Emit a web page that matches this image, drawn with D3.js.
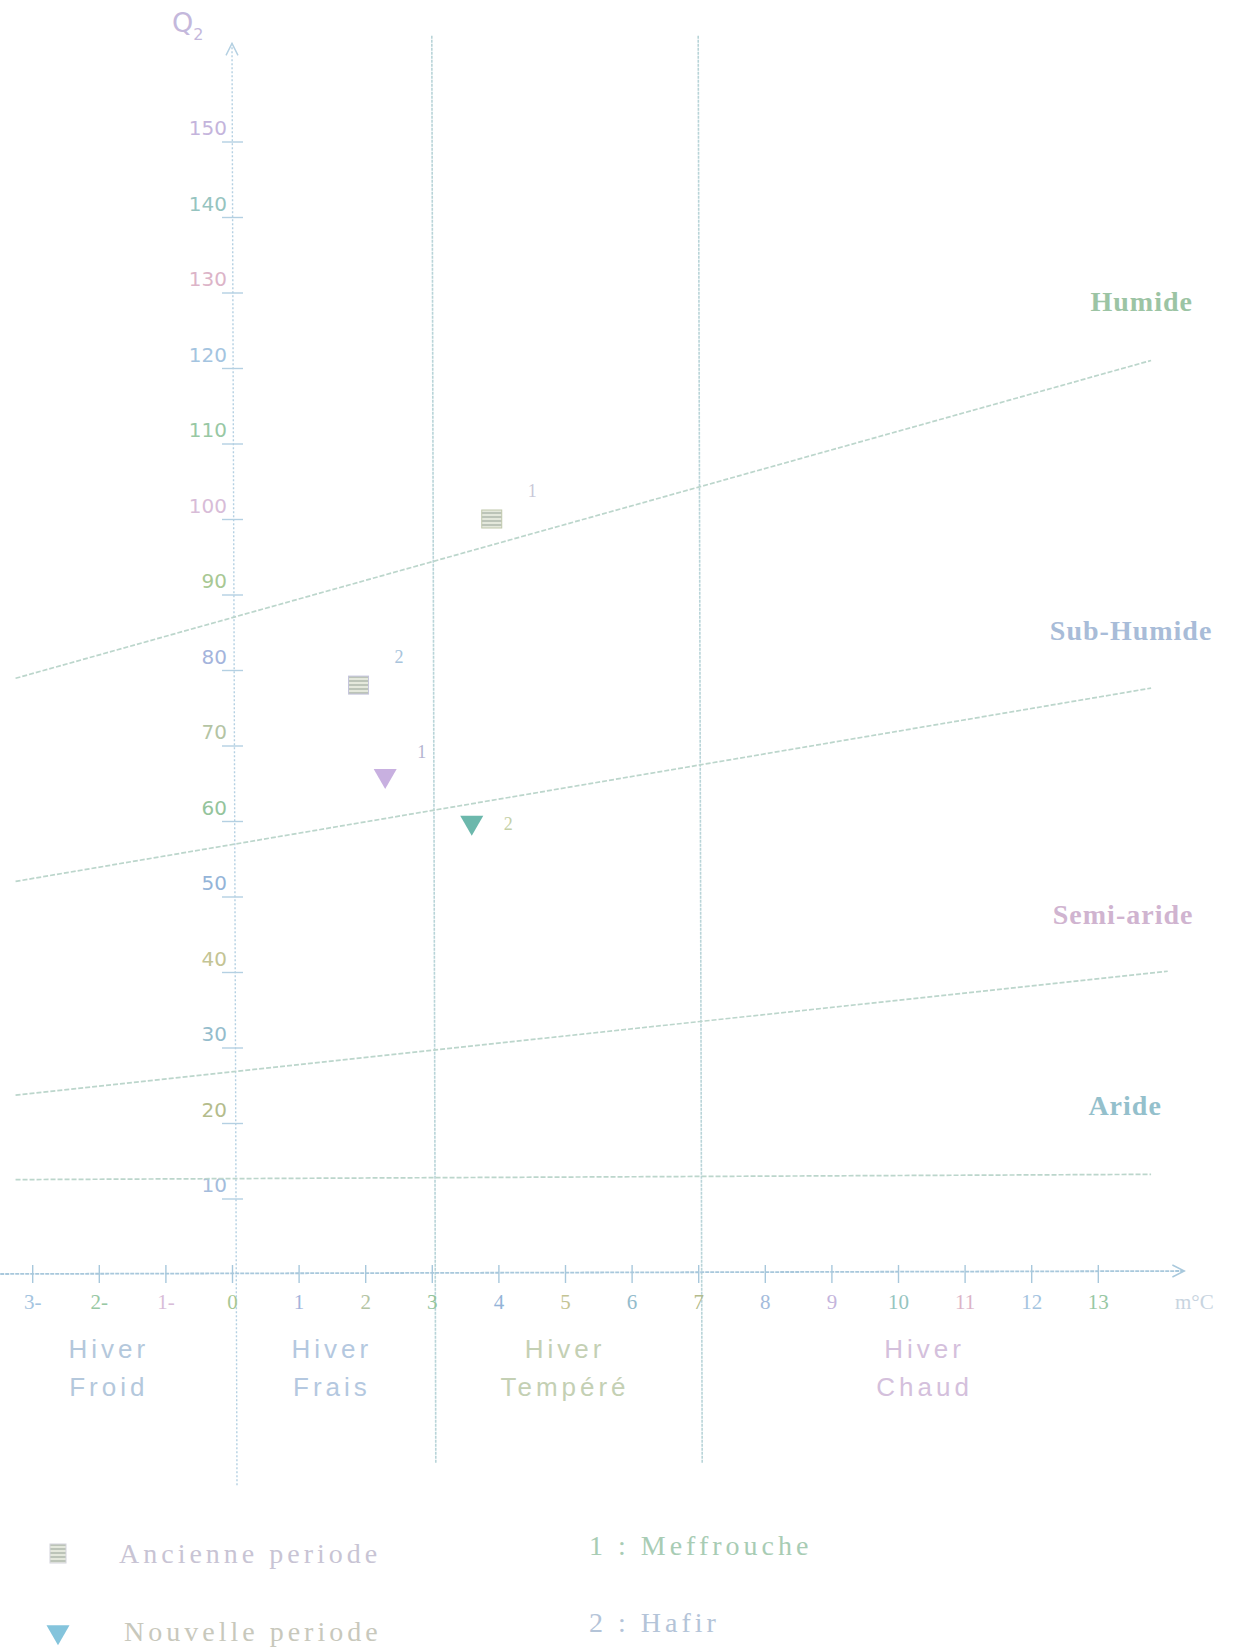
<!DOCTYPE html>
<html>
<head>
<meta charset="utf-8">
<script src="https://cdn.jsdelivr.net/npm/d3@7"></script>
<style>
  body { margin: 0; background: #fff; }
  svg { display: block; }
</style>
</head>
<body>
<div id="chart"></div>
<script>
// Climagramme d'Emberger : Q2 en fonction de m (°C)
// Axis ticks
const xTicks = [-3, -2, -1, 0, 1, 2, 3, 4, 5, 6, 7, 8, 9, 10, 11, 12, 13];
const xTickLabels = ['3-', '2-', '1-', '0', '1', '2', '3', '4', '5', '6', '7', '8', '9', '10', '11', '12', '13'];
const yTicks = [10, 20, 30, 40, 50, 60, 70, 80, 90, 100, 110, 120, 130, 140, 150];

// Stations
const stationIds = ['1', '2'];
const stationNames = ['Meffrouche', 'Hafir'];
const periodNames = ['Ancienne periode', 'Nouvelle periode'];
const ancienneM = [3.9, 1.9];
const ancienneQ2 = [100, 78];
const nouvelleM = [2.3, 3.6];
const nouvelleQ2 = [66, 59.8];

// Bioclimatic limits: [m start, Q2 start, m end, Q2 end]
const humideLimit = [-3.25, 78.9, 13.8, 121];
const subHumideLimit = [-3.25, 52, 13.8, 77.6];
const semiAridLimit = [-3.25, 23.7, 14.05, 40.1];
const arideLimit = [-3.25, 12.5, 13.8, 13.2];
const zoneNames = ['Humide', 'Sub-Humide', 'Semi-aride', 'Aride'];

// Winter variants (m limits) and names
const hiverLimits = [0, 3, 7];
const hiverRange = [-3.7, 13.8];
const hiverNames = ['Froid', 'Frais', 'Tempéré', 'Chaud'];

const width = 1233, height = 1650;
const pastel = ['#c4b4dc', '#96c4c0', '#dcb4c8', '#a4c4e0', '#98c8a4', '#d8bcd8', '#a8c894', '#a4b4dc', '#b4c4a4', '#94c49c', '#94b4d8', '#c4c494', '#94bccc', '#b4bc8c', '#a4bcdc'];
const lineColor = '#b4d0e2';
const zoneLineColor = '#bcd6cc';

const svg = d3.select('#chart').append('svg')
  .attr('width', width)
  .attr('height', height);

const x = d3.scaleLinear().domain([0, 13]).range([232, 232 + 13 * 66.6]);
const y = d3.scaleLinear().domain([0, 150]).range([1274, 141.5]);

// Vertical winter limits (m = 3 and m = 7)
svg.selectAll('.hiver-line')
  .data(hiverLimits.slice(1))
  .join('line')
  .attr('x1', d => x(d)).attr('x2', d => x(d) + 4)
  .attr('y1', y(164)).attr('y2', y(-25))
  .attr('stroke', '#b8d4d8')
  .attr('stroke-width', 1.6)
  .attr('stroke-dasharray', '3,1');

// Y axis (m = 0) with arrow
svg.append('line')
  .attr('x1', x(0)).attr('x2', x(0) + 5)
  .attr('y1', y(163)).attr('y2', y(-28))
  .attr('stroke', lineColor).attr('stroke-width', 1.4)
  .attr('stroke-dasharray', '2,2');
svg.append('path')
  .attr('d', `M${x(0) - 6},${y(163) + 12}L${x(0)},${y(163)}L${x(0) + 6},${y(163) + 12}`)
  .attr('fill', 'none').attr('stroke', lineColor).attr('stroke-width', 1.4);

// X axis (Q2 = 0) with arrow
svg.append('line')
  .attr('x1', x(-3.48)).attr('x2', x(14.3))
  .attr('y1', y(0)).attr('y2', y(0) - 3)
  .attr('stroke', '#a8c8dc').attr('stroke-width', 1.8)
  .attr('stroke-dasharray', '4,1');
svg.append('path')
  .attr('d', `M${x(14.3) - 12},${y(0) - 9}L${x(14.3)},${y(0) - 3}L${x(14.3) - 12},${y(0) + 3}`)
  .attr('fill', 'none').attr('stroke', '#a8c8dc').attr('stroke-width', 1.4);

// Y ticks and labels
const yAxis = d3.axisLeft(y).tickValues(yTicks).tickSize(0).tickPadding(5);
const gy = svg.append('g').attr('transform', `translate(${x(0)},0)`).call(yAxis);
gy.select('.domain').remove();
gy.selectAll('.tick').append('line')
  .attr('x1', -10).attr('x2', 11)
  .attr('stroke', lineColor).attr('stroke-width', 1.4);
gy.selectAll('.tick text')
  .attr('dy', -7)
  .attr('font-family', 'DejaVu Sans, sans-serif')
  .attr('font-size', 20)
  .attr('fill', (d, i) => pastel[(yTicks.length - 1 - i) % pastel.length]);

// X ticks and labels
const xAxis = d3.axisBottom(x).tickValues(xTicks).tickSize(0).tickPadding(20)
  .tickFormat((d, i) => xTickLabels[i]);
const gx = svg.append('g').attr('transform', `translate(0,${y(0)})`).call(xAxis);
gx.select('.domain').remove();
gx.selectAll('.tick').append('line')
  .attr('y1', -9).attr('y2', 9)
  .attr('stroke', '#a8c8dc').attr('stroke-width', 1.4);
gx.selectAll('.tick text')
  .attr('font-family', 'Liberation Serif, serif')
  .attr('font-size', 21)
  .attr('fill', (d, i) => pastel[(i + 3) % pastel.length]);

svg.append('text')
  .attr('x', x(14.45)).attr('y', y(0) + 35)
  .attr('text-anchor', 'middle')
  .attr('font-family', 'Liberation Serif, serif')
  .attr('font-size', 21)
  .attr('fill', '#c8d4e0')
  .text('m°C');

// Q2 axis title
const q = svg.append('text')
  .attr('x', 172).attr('y', 32)
  .attr('font-family', 'DejaVu Sans, sans-serif')
  .attr('font-size', 27)
  .attr('fill', '#c4b8dc');
q.append('tspan').text('Q');
q.append('tspan').attr('font-size', 16).attr('dy', 8).text('2');

// Bioclimatic limit lines
const limits = [humideLimit, subHumideLimit, semiAridLimit, arideLimit];
svg.selectAll('.limit')
  .data(limits)
  .join('line')
  .attr('x1', d => x(d[0])).attr('y1', d => y(d[1]))
  .attr('x2', d => x(d[2])).attr('y2', d => y(d[3]))
  .attr('stroke', zoneLineColor)
  .attr('stroke-width', 1.7)
  .attr('stroke-dasharray', '5,2');

// Zone names
const zoneLabelAt = [[13.66, 127.6], [13.5, 84], [13.38, 46.3], [13.41, 21]];
const zoneColors = ['#9cc4a4', '#a8bcd8', '#d0b4d0', '#94c0cc'];
svg.selectAll('.zone-label')
  .data(zoneNames)
  .join('text')
  .attr('x', (d, i) => x(zoneLabelAt[i][0]))
  .attr('y', (d, i) => y(zoneLabelAt[i][1]))
  .attr('text-anchor', 'middle')
  .attr('font-family', 'Liberation Serif, serif')
  .attr('font-weight', 'bold')
  .attr('font-size', 28)
  .attr('letter-spacing', 1)
  .attr('fill', (d, i) => zoneColors[i])
  .text(d => d);

// Winter labels, centred between limits
const hiverEdges = [hiverRange[0], ...hiverLimits, hiverRange[1]];
const hiverColors = ['#b4c8dc', '#b4c8e0', '#c4d0b4', '#d4c0dc'];
hiverNames.forEach((name, i) => {
  const cx = x((hiverEdges[i] + hiverEdges[i + 1]) / 2);
  [['Hiver', 1358], [name, 1396]].forEach(([t, ty]) => {
    svg.append('text')
      .attr('x', cx).attr('y', ty)
      .attr('text-anchor', 'middle')
      .attr('font-family', 'Liberation Sans, sans-serif')
      .attr('font-size', 26)
      .attr('letter-spacing', 4)
      .attr('fill', hiverColors[i])
      .text(t);
  });
});

// Hatch pattern for the old-period squares
const defs = svg.append('defs');
const pat = defs.append('pattern')
  .attr('id', 'hatch').attr('width', 4).attr('height', 4)
  .attr('patternUnits', 'userSpaceOnUse');
pat.append('rect').attr('width', 4).attr('height', 4).attr('fill', '#e4e8dc');
pat.append('rect').attr('width', 4).attr('height', 2).attr('fill', '#bcc4b8');

// Old period: squares
const oldColors = ['#c0c8ac', '#c4c4dc'];
svg.selectAll('.old-pt')
  .data(ancienneM)
  .join('rect')
  .attr('x', d => x(d) - 10)
  .attr('y', (d, i) => y(ancienneQ2[i]) - 9)
  .attr('width', 20).attr('height', 18)
  .attr('fill', 'url(#hatch)')
  .attr('stroke', (d, i) => oldColors[i]).attr('stroke-width', 1);

// New period: downward triangles
const newColors = ['#c8b0e0', '#6cb8ac'];
const tri = d3.symbol().type(d3.symbolTriangle).size(230);
svg.selectAll('.new-pt')
  .data(nouvelleM)
  .join('path')
  .attr('d', tri)
  .attr('transform', (d, i) => `translate(${x(d)},${y(nouvelleQ2[i])}) rotate(180)`)
  .attr('fill', (d, i) => newColors[i]);

// Station numbers next to points
const numColor = ['#c8c8d8', '#a8c4dc'];
svg.selectAll('.old-num')
  .data(ancienneM)
  .join('text')
  .attr('x', d => x(d) + 36)
  .attr('y', (d, i) => y(ancienneQ2[i]) - 22)
  .attr('font-family', 'Liberation Serif, serif')
  .attr('font-size', 18)
  .attr('fill', (d, i) => numColor[i])
  .text((d, i) => stationIds[i]);
svg.selectAll('.new-num')
  .data(nouvelleM)
  .join('text')
  .attr('x', d => x(d) + 32)
  .attr('y', (d, i) => y(nouvelleQ2[i]) + (i === 0 ? -18 : 7))
  .attr('font-family', 'Liberation Serif, serif')
  .attr('font-size', 18)
  .attr('fill', (d, i) => i === 0 ? '#b4b4d0' : '#c4d0a8')
  .text((d, i) => stationIds[i]);

// Legend
const legend = svg.append('g');
legend.append('rect')
  .attr('x', 50).attr('y', 1544).attr('width', 16).attr('height', 19)
  .attr('fill', 'url(#hatch)').attr('stroke', '#d4d4dc');
legend.append('path')
  .attr('d', tri)
  .attr('transform', 'translate(58,1632) rotate(180)')
  .attr('fill', '#84c4dc');
const legendFont = (sel) => sel
  .attr('font-family', 'Liberation Serif, serif')
  .attr('font-size', 28)
  .attr('letter-spacing', 4);
legend.selectAll('.period')
  .data(periodNames)
  .join('text')
  .attr('x', (d, i) => 119 + i * 5)
  .attr('y', (d, i) => 1563 + i * 78)
  .call(legendFont)
  .attr('fill', (d, i) => i === 0 ? '#c8c4d4' : '#c8c8bc')
  .text(d => d);
legend.selectAll('.station')
  .data(stationNames)
  .join('text')
  .attr('x', 589)
  .attr('y', (d, i) => 1555 + i * 77)
  .call(legendFont)
  .attr('fill', (d, i) => i === 0 ? '#a8ccb4' : '#b4c4d8')
  .text((d, i) => `${stationIds[i]} : ${d}`);
</script>
</body>
</html>
